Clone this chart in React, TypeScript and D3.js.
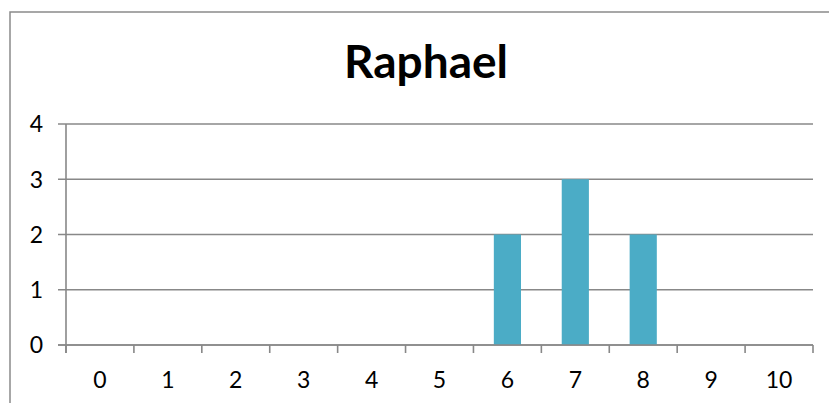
import React from "react";
import * as d3 from "d3";

const categories = ["0", "1", "2", "3", "4", "5", "6", "7", "8", "9", "10"];
const values = [0, 0, 0, 0, 0, 0, 2, 3, 2, 0, 0];
const yTicks = [0, 1, 2, 3, 4];
const title = "Raphael";

const W = 829;
const H = 403;
const M = { left: 66, right: 813, top: 124, bottom: 345 };
const FONT = "Lato, 'Liberation Sans', sans-serif";

export default function App() {
  const x = d3
    .scaleBand<string>()
    .domain(categories)
    .range([M.left, M.right])
    .paddingInner(0.6)
    .paddingOuter(0.3);
  const band = d3.scaleBand<string>().domain(categories).range([M.left, M.right]);
  const y = d3.scaleLinear().domain([0, 4]).range([M.bottom, M.top]);
  const gridColor = "#888888";

  const boundaries = d3.range(categories.length + 1).map((i) => M.left + i * band.step());

  return (
    <svg
      width={W}
      height={H}
      style={{ position: "absolute", left: 0, top: 0, background: "#fff" }}
    >
      <rect x={10} y={12} width={W} height={H} fill="#fff" stroke="#8a8a8a" strokeWidth={1.5} />
      <text
        x={426}
        y={78}
        textAnchor="middle"
        fontFamily={FONT}
        fontWeight="bold"
        fontSize={46}
        fill="#000"
      >
        {title}
      </text>
      {yTicks.map((t) => (
        <g key={t}>
          <line x1={58} x2={M.right} y1={y(t)} y2={y(t)} stroke={gridColor} strokeWidth={1.6} />
          <text
            x={43}
            y={y(t)}
            dy="0.36em"
            textAnchor="end"
            fontFamily={FONT}
            fontSize={23}
            fill="#000"
          >
            {t}
          </text>
        </g>
      ))}
      <line x1={M.left} x2={M.left} y1={M.top} y2={M.bottom + 8} stroke={gridColor} strokeWidth={1.6} />
      {boundaries.map((b, i) => (
        <line key={i} x1={b} x2={b} y1={M.bottom} y2={M.bottom + 8} stroke={gridColor} strokeWidth={1.6} />
      ))}
      {categories.map((c, i) => (
        <rect
          key={c}
          x={x(c)}
          y={y(values[i])}
          width={x.bandwidth()}
          height={M.bottom - y(values[i])}
          fill="#4BACC6"
        />
      ))}
      <line x1={58} x2={M.right} y1={M.bottom} y2={M.bottom} stroke={gridColor} strokeWidth={1.6} />
      {categories.map((c) => (
        <text
          key={c}
          x={(band(c) as number) + band.bandwidth() / 2}
          y={388}
          textAnchor="middle"
          fontFamily={FONT}
          fontSize={23}
          fill="#000"
        >
          {c}
        </text>
      ))}
    </svg>
  );
}
